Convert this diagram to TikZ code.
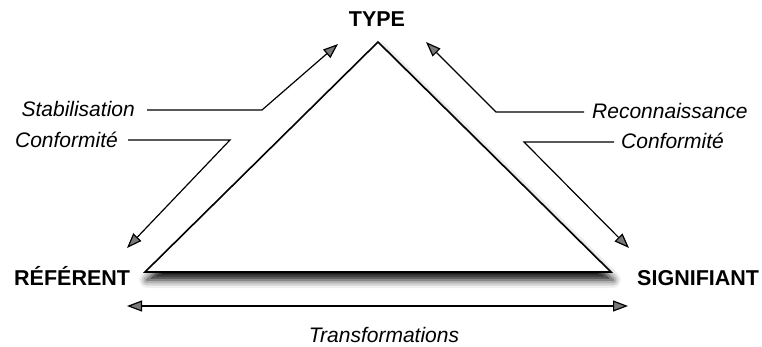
\documentclass[tikz,border=0pt]{standalone}
\usepackage{fontspec}
\setmainfont{Liberation Sans}
\usetikzlibrary{arrows.meta,shadows.blur}
\begin{document}
\begin{tikzpicture}[x=1pt,y=-1pt]
\tikzset{
  cornerlabel/.style={font=\fontsize{21.5}{24}\selectfont\bfseries, inner sep=0pt},
  sidelabel/.style={font=\fontsize{21}{24}\selectfont\itshape, inner sep=0pt},
  arr/.style={line width=1.2pt, -{Triangle[length=15pt,width=11pt]}},
  dblarr/.style={line width=1.2pt, {Triangle[length=15pt,width=11pt]}-{Triangle[length=15pt,width=11pt]}},
  edge/.style={line width=1.6pt, line join=miter, fill=white,
    blur shadow={shadow xshift=2pt, shadow yshift=-8pt, shadow blur radius=8pt, shadow opacity=95}},
}
\useasboundingbox (0,0) rectangle (762,347);
% triangle corners
\coordinate (A) at (378,42);
\coordinate (B) at (145,272);
\coordinate (C) at (611,272);
\draw[edge] (A) -- (B) -- (C) -- cycle;
% corner labels
\node[cornerlabel, anchor=base] (type) at (377,27) {TYPE};
\node[cornerlabel, anchor=base west] (ref) at (14,285) {RÉFÉRENT};
\node[cornerlabel, anchor=base west] (sig) at (637,285) {SIGNIFIANT};
% side labels
\node[sidelabel, anchor=base east] (stab) at (135,117) {Stabilisation};
\node[sidelabel, anchor=base east] (confL) at (118,148) {Conformité};
\node[sidelabel, anchor=base west] (reco) at (592,119) {Reconnaissance};
\node[sidelabel, anchor=base west] (confR) at (621,149) {Conformité};
\node[sidelabel, anchor=base] (trans) at (384,342) {Transformations};
% connector points
\coordinate (sL) at (147,110); \coordinate (sB) at (262,110); \coordinate (sT) at (338,44);
\coordinate (cL) at (128,140); \coordinate (cB) at (230,140); \coordinate (cT) at (127,248);
\coordinate (rR) at (584,112); \coordinate (rB) at (496,112); \coordinate (rT) at (426,42);
\coordinate (kR) at (614,142); \coordinate (kB) at (524,142); \coordinate (kT) at (629,248);
\coordinate (tL) at (127,306); \coordinate (tR) at (628,306);
% connectors
\draw[arr] (sL) -- (sB) -- (sT);
\draw[arr] (cL) -- (cB) -- (cT);
\draw[arr] (rR) -- (rB) -- (rT);
\draw[arr] (kR) -- (kB) -- (kT);
\draw[dblarr] (tL) -- (tR);
\end{tikzpicture}
\end{document}
